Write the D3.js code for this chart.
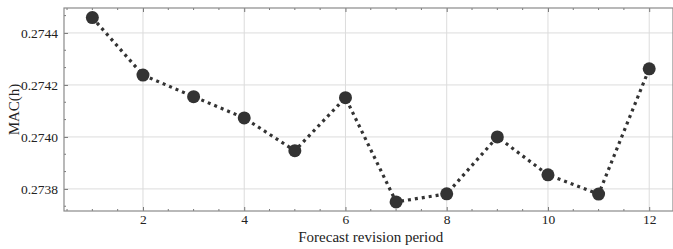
<!DOCTYPE html>
<html>
<head>
<meta charset="utf-8">
<script src="https://cdn.jsdelivr.net/npm/d3@7"></script>
<style>
  body { margin: 0; background: #fff; }
  svg { display: block; font-family: "Liberation Serif", "DejaVu Serif", serif; }
  .grid line { stroke: #dcdcdc; stroke-width: 1; }
  .axis path { display: none; }
  .axis line { stroke: #777; }
  .axisText { font-size: 15px; fill: #222; }
</style>
</head>
<body>
<div id="chart"></div>
<script>
var svgWidth = 673;
var svgHeight = 249;

var margin = { top: 8, bottom: 38, right: 0, left: 64 };

var width = svgWidth - margin.left - margin.right;
var height = svgHeight - margin.top - margin.bottom;

// data
var periods = [1, 2, 3, 4, 5, 6, 7, 8, 9, 10, 11, 12];
var macValues = [0.274459, 0.274238, 0.274155, 0.274073, 0.273947, 0.274151,
                 0.273750, 0.273781, 0.274000, 0.273854, 0.273780, 0.274262];
var xTicks = [2, 4, 6, 8, 10, 12];
var yTicks = [0.2738, 0.2740, 0.2742, 0.2744];

var data = periods.map(function(p, i) { return { period: p, mac: macValues[i] }; });

var svg = d3.select("#chart")
  .append("svg")
  .attr("width", svgWidth)
  .attr("height", svgHeight);

var chartGroup = svg.append("g")
  .attr("transform", `translate(${margin.left}, ${margin.top})`);

var xScale = d3.scaleLinear()
  .domain([0.44, 12.47])
  .range([0, width]);

var yScale = d3.scaleLinear()
  .domain([0.273715, 0.274496])
  .range([height, 0]);

// grid lines
var grid = chartGroup.append("g").attr("class", "grid");
grid.selectAll(".gx").data(xTicks).enter().append("line")
  .attr("x1", d => xScale(d)).attr("x2", d => xScale(d))
  .attr("y1", 0).attr("y2", height);
grid.selectAll(".gy").data(yTicks).enter().append("line")
  .attr("x1", 0).attr("x2", width)
  .attr("y1", d => yScale(d)).attr("y2", d => yScale(d));

// minor tick positions
var xMinor = d3.range(0.5, 12.5, 0.5).filter(d => xTicks.indexOf(d) < 0);
var yMinor = [];
yTicks.concat([0.2746]).forEach(function(t) {
  [1, 2].forEach(function(k) { yMinor.push(t - 0.0002 * k / 3); });
});
yMinor = yMinor.filter(d => d > yScale.domain()[0] && d < yScale.domain()[1]);

// axes (ticks pointing inward)
var bottomAxis = d3.axisBottom(xScale).tickValues(xTicks).tickSizeInner(-4).tickPadding(3).tickFormat(d3.format("d"));
var leftAxis = d3.axisLeft(yScale).tickValues(yTicks).tickSizeInner(-4).tickPadding(6).tickFormat(d3.format(".4f"));

var xAxisG = chartGroup.append("g")
  .attr("class", "axis")
  .attr("transform", `translate(0, ${height})`)
  .call(bottomAxis);

var yAxisG = chartGroup.append("g")
  .attr("class", "axis")
  .call(leftAxis);

[xAxisG, yAxisG].forEach(function(g) {
  g.selectAll("text")
    .style("font-family", "'Liberation Serif', serif")
    .style("font-size", "13.5px")
    .attr("fill", "#222");
});

// top axis ticks, no labels
chartGroup.append("g")
  .attr("class", "axis")
  .call(d3.axisTop(xScale).tickValues(xTicks).tickSizeInner(-4).tickFormat(""));

var minors = chartGroup.append("g").attr("class", "axis");
minors.selectAll(".mxb").data(xMinor).enter().append("line")
  .attr("x1", d => xScale(d)).attr("x2", d => xScale(d))
  .attr("y1", height).attr("y2", height - 2);
minors.selectAll(".mxt").data(xMinor).enter().append("line")
  .attr("x1", d => xScale(d)).attr("x2", d => xScale(d))
  .attr("y1", 0).attr("y2", 2);
minors.selectAll(".my").data(yMinor).enter().append("line")
  .attr("x1", 0).attr("x2", 2)
  .attr("y1", d => yScale(d)).attr("y2", d => yScale(d));

// frame
chartGroup.append("rect")
  .attr("x", 0).attr("y", 0)
  .attr("width", width).attr("height", height)
  .attr("fill", "none")
  .attr("stroke", "#8a8a8a")
  .attr("stroke-width", 1.2);

// dotted line
var line = d3.line()
  .x(d => xScale(d.period))
  .y(d => yScale(d.mac));

chartGroup.append("path")
  .datum(data)
  .attr("d", line)
  .attr("fill", "none")
  .attr("stroke", "#333")
  .attr("stroke-width", 3.2)
  .attr("stroke-dasharray", "3,4");

chartGroup.selectAll(".pt")
  .data(data)
  .enter()
  .append("circle")
  .attr("cx", d => xScale(d.period))
  .attr("cy", d => yScale(d.mac))
  .attr("r", 6.5)
  .attr("fill", "#333");

// axis labels
chartGroup.append("text")
  .attr("transform", "rotate(-90)")
  .attr("x", 0 - (height / 2))
  .attr("y", 0 - margin.left + 19)
  .attr("text-anchor", "middle")
  .attr("class", "axisText")
  .text("MAC(h)");

chartGroup.append("text")
  .attr("x", (xScale(1) + xScale(12)) / 2)
  .attr("y", height + 31)
  .attr("text-anchor", "middle")
  .attr("class", "axisText")
  .text("Forecast revision period");
</script>
</body>
</html>
